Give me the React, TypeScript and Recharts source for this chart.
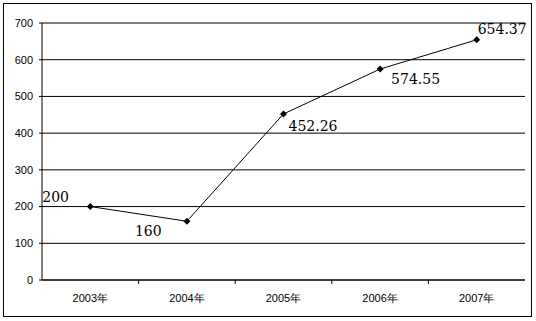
import React from 'react';
import {
  CartesianGrid,
  LabelList,
  Line,
  LineChart,
  ReferenceLine,
  XAxis,
  YAxis,
} from 'recharts';

const years = ['2003年', '2004年', '2005年', '2006年', '2007年'];
const values = [200, 160, 452.26, 574.55, 654.37];
const yTicks = [0, 100, 200, 300, 400, 500, 600, 700];

// where each value label sits relative to its point: [dx, dy]
const labelOffsets: [number, number][] = [
  [-48, -10],
  [-52, 10],
  [5, 12],
  [11, 10],
  [1, -11],
];

const data = years.map((year, i) => ({ year, value: values[i] }));

const tickFont = { fontFamily: '"Liberation Sans", Arial, sans-serif', fontSize: 11, fill: '#000' };

const Diamond = (props: any) => {
  const { cx, cy, index } = props;
  if (cx == null || cy == null) return null;
  const r = 3.5;
  return (
    <polygon
      key={`dot-${index}`}
      points={`${cx},${cy - r} ${cx + r},${cy} ${cx},${cy + r} ${cx - r},${cy}`}
      fill="#000"
    />
  );
};

const AXIS_Y = 280;

const XTick = (props: any) => {
  const { x, payload, index } = props;
  const half = 483 / years.length / 2;
  return (
    <g>
      {index > 0 && <line x1={x - half} x2={x - half} y1={AXIS_Y} y2={AXIS_Y + 4} stroke="#000" />}
      <text x={x} y={AXIS_Y + 22} textAnchor="middle" {...tickFont}>
        {payload.value}
      </text>
    </g>
  );
};

const ValueLabel = (props: any) => {
  const { x, y, index, value } = props;
  const [dx, dy] = labelOffsets[index] || [0, 0];
  return (
    <text
      x={x + dx}
      y={y + dy}
      dominantBaseline="central"
      textAnchor="start"
      fontFamily='"DejaVu Serif", serif'
      fontSize={14}
      fill="#000"
    >
      {value}
    </text>
  );
};

export default function App() {
  return (
    <div style={{ position: 'absolute', left: 0, top: 0, width: 536, height: 321, background: '#fff' }}>
      <div
        style={{
          position: 'absolute',
          left: 3,
          top: 3,
          width: 527,
          height: 312,
          border: '1px solid #000',
        }}
      />
      <LineChart
        width={536}
        height={321}
        data={data}
        margin={{ top: 23, right: 11, left: 0, bottom: 11 }}
        style={{ position: 'absolute', left: 0, top: 0 }}
      >
        <CartesianGrid vertical={false} stroke="#000" strokeDasharray="" />
        <ReferenceLine y={700} stroke="#808080" />
        <XAxis
          dataKey="year"
          scale="band"
          height={30}
          axisLine={{ stroke: '#000' }}
          tickLine={false}
          tick={<XTick />}
          interval={0}
        />
        <YAxis
          width={42}
          domain={[0, 700]}
          ticks={yTicks}
          interval={0}
          axisLine={{ stroke: '#000' }}
          tickLine={{ stroke: '#000' }}
          tickSize={3}
          tickMargin={6}
          tick={tickFont}
        />
        <YAxis
          yAxisId="right"
          orientation="right"
          width={0}
          domain={[0, 700]}
          tick={false}
          tickLine={false}
          axisLine={{ stroke: '#808080' }}
        />
        <Line
          type="linear"
          dataKey="value"
          stroke="#000"
          strokeWidth={1}
          dot={<Diamond />}
          activeDot={false}
          isAnimationActive={false}
        >
          <LabelList dataKey="value" content={<ValueLabel />} />
        </Line>
      </LineChart>
    </div>
  );
}
